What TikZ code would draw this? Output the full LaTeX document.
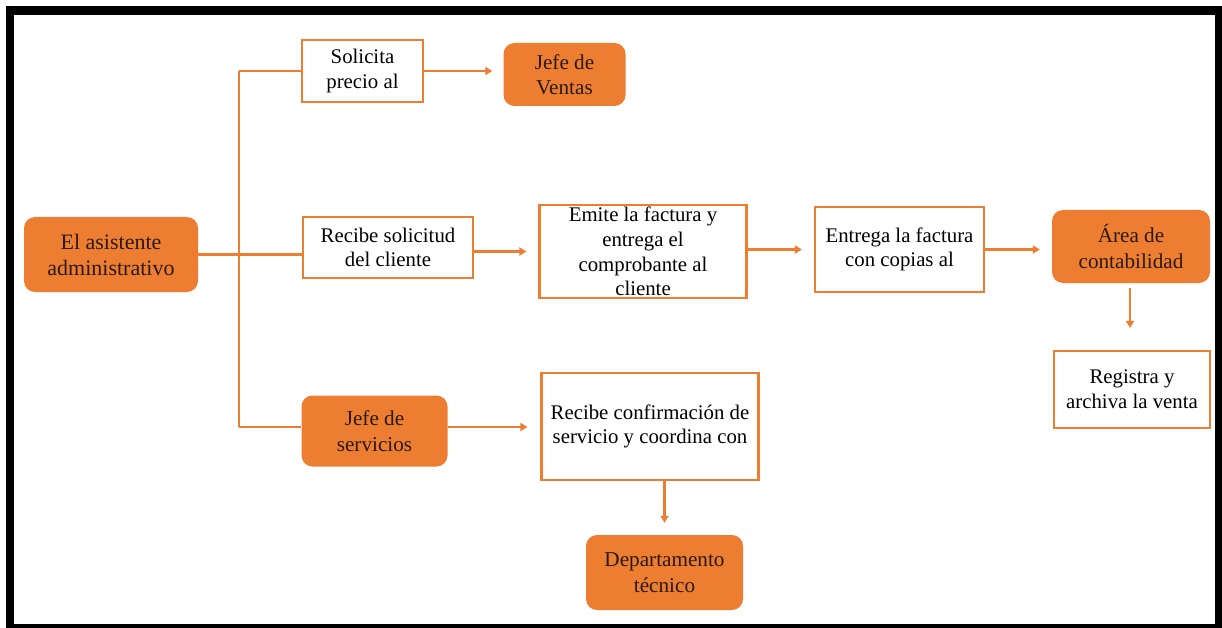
\documentclass[tikz,border=0pt]{standalone}
\usepackage{fontspec}
\setmainfont{Liberation Serif}
\usetikzlibrary{arrows.meta}
\definecolor{naranja}{HTML}{ED7D31}
\definecolor{tinta}{HTML}{2A1A10}
\begin{document}
\begin{tikzpicture}[x=1pt,y=-1pt,
  font=\fontsize{20.8}{24.6}\selectfont,
  caja/.style={draw=naranja,line width=2.2pt,fill=white,inner sep=0pt,align=center,text=black},
  actor/.style={fill=naranja,rounded corners=11pt,inner sep=0pt,align=center,text=tinta,
                font=\fontsize{21.2}{25.5}\selectfont},
  grande/.style={font=\fontsize{22}{26}\selectfont},
  linea/.style={draw=naranja,line width=2.5pt},
  flecha/.style={linea,-{Triangle[length=7pt,width=8pt]}}]
% frame
\fill[black] (6,6) rectangle (1222,628);
\fill[white] (14,15) rectangle (1215,624);
\useasboundingbox (0,0) rectangle (1222,628);

% nodes
\node[actor,grande,minimum width=174pt,minimum height=75pt] (asist) at (111,254.5) {El asistente\\administrativo};
\node[caja,minimum width=121pt,minimum height=62pt] (sol) at (362.5,71) {Solicita\\precio al};
\node[actor,minimum width=122pt,minimum height=63pt] (ventas) at (564.5,74.5) {Jefe de\\Ventas};
\node[caja,minimum width=170pt,minimum height=61pt] (recsol) at (388,247.5) {Recibe solicitud\\del cliente};
\node[caja,minimum width=207pt,minimum height=93pt] (emite) at (643,251.5) {Emite la factura y\\entrega el\\comprobante al\\cliente};
\node[caja,minimum width=169pt,minimum height=85pt] (entrega) at (899.5,249.5) {Entrega la factura\\con copias al};
\node[actor,minimum width=158pt,minimum height=73pt] (area) at (1131,246.5) {Área de\\contabilidad};
\node[caja,minimum width=156pt,minimum height=77pt] (registra) at (1132,389.5) {Registra y\\archiva la venta};
\node[actor,minimum width=146pt,minimum height=71pt] (jserv) at (374.5,431) {Jefe de\\servicios};
\node[caja,minimum width=217pt,minimum height=107pt] (recconf) at (650,426.5) {Recibe confirmación de\\servicio y coordina con};
\node[actor,minimum width=157pt,minimum height=75pt] (depto) at (664.5,572.5) {Departamento\\técnico};

% trunk
\coordinate (ttop) at (239,71);
\coordinate (tbot) at (239,427);
\draw[linea] (ttop) -- (tbot);
\draw[linea] (asist.east) -- (recsol.west |- asist.east);
\draw[linea] (ttop) -- (sol.west |- ttop);
\draw[linea] (tbot) -- (jserv.west |- tbot);

% arrows
\draw[flecha,shorten >=11pt] (sol.east) -- (ventas.west |- sol.east);
\draw[flecha,shorten >=12pt] (recsol.east |- emite.west) -- (emite.west);
\draw[flecha,shorten >=12pt] (emite.east |- entrega.west) -- (entrega.west);
\draw[flecha,shorten >=12pt] (entrega.east) -- (area.west |- entrega.east);
\draw[flecha,shorten <=5pt,shorten >=22pt] (area.south -| 1130,0) -- (registra.north -| 1130,0);
\draw[flecha,shorten >=13pt] (jserv.east |- tbot) -- (recconf.west |- tbot);
\draw[flecha,shorten >=12pt] (recconf.south -| depto.north) -- (depto.north);
\end{tikzpicture}
\end{document}
